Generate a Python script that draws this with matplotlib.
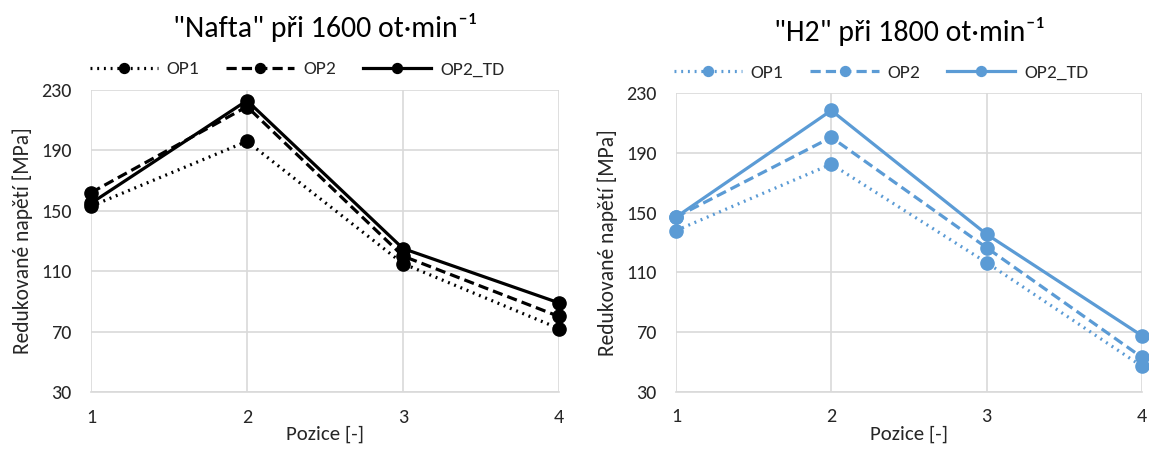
import matplotlib
matplotlib.use("Agg")
import matplotlib.pyplot as plt

positions = [1, 2, 3, 4]
nafta_op1 = [153, 196, 115, 72]
nafta_op2 = [162, 219, 120, 80]
nafta_op2td = [155, 223, 125, 89]
h2_op1 = [138, 182.5, 116.5, 47]
h2_op2 = [147, 200.5, 126.5, 53]
h2_op2td = [147, 218.5, 135.5, 67.5]
series_labels = ["OP1", "OP2", "OP2_TD"]
titles = ['"Nafta" při 1600 ot·min⁻¹', '"H2" při 1800 ot·min⁻¹']
yticks = [30, 70, 110, 150, 190, 230]
xlabel = "Pozice [-]"
ylabel = "Redukované napětí [MPa]"

plt.rcParams['font.family'] = ['Carlito', 'Lato', 'DejaVu Sans']

fig = plt.figure(figsize=(11.49, 4.5), dpi=100)
ax1 = fig.add_axes([0.0792, 0.129, 0.4073, 0.671])
ax2 = fig.add_axes([0.5883, 0.1296, 0.4056, 0.6631])

styles = [(0, (0.6, 1.5)), (0, (3.2, 1.6)), '-']
grid_c = '#D9D9D9'
text_c = '#262626'

def draw(ax, data, color, title):
    handles = []
    for vals, ls, lab in zip(data, styles, series_labels):
        h, = ax.plot(positions, vals, linestyle=ls, color=color, linewidth=2.3,
                     marker='o', markersize=9.5, label=lab, clip_on=False, zorder=3,
                     dash_capstyle='butt')
        handles.append(h)
    ax.set_xlim(1, 4)
    ax.set_ylim(30, 230)
    ax.set_xticks(positions)
    ax.set_yticks(yticks)
    ax.grid(True, color=grid_c, linewidth=1.2)
    for s in ['top', 'right', 'left']:
        ax.spines[s].set_visible(False)
    ax.spines['bottom'].set_color(grid_c)
    ax.spines['bottom'].set_linewidth(1.2)
    ax.tick_params(axis='both', length=0, labelsize=14.5, colors=text_c)
    ax.tick_params(axis='x', pad=12)
    ax.tick_params(axis='y', pad=14)
    ax.set_xlabel(xlabel, fontsize=15, color=text_c, labelpad=0)
    ax.set_ylabel(ylabel, fontsize=15.5, color=text_c, labelpad=6)
    ax.set_axisbelow(True)
    ax.set_title(title, fontsize=21.5, color='black', pad=38)
    ax.legend(handles=handles, loc='lower center', bbox_to_anchor=(0.44, 1.0),
              ncol=3, frameon=False, fontsize=14, handlelength=3.5,
              columnspacing=1.4, handletextpad=0.45, borderaxespad=0.25,
              labelcolor=text_c, markerscale=0.75)

draw(ax1, [nafta_op1, nafta_op2, nafta_op2td], 'black', titles[0])
draw(ax2, [h2_op1, h2_op2, h2_op2td], '#5B9BD5', titles[1])

fig.savefig("out.png", dpi=100)
